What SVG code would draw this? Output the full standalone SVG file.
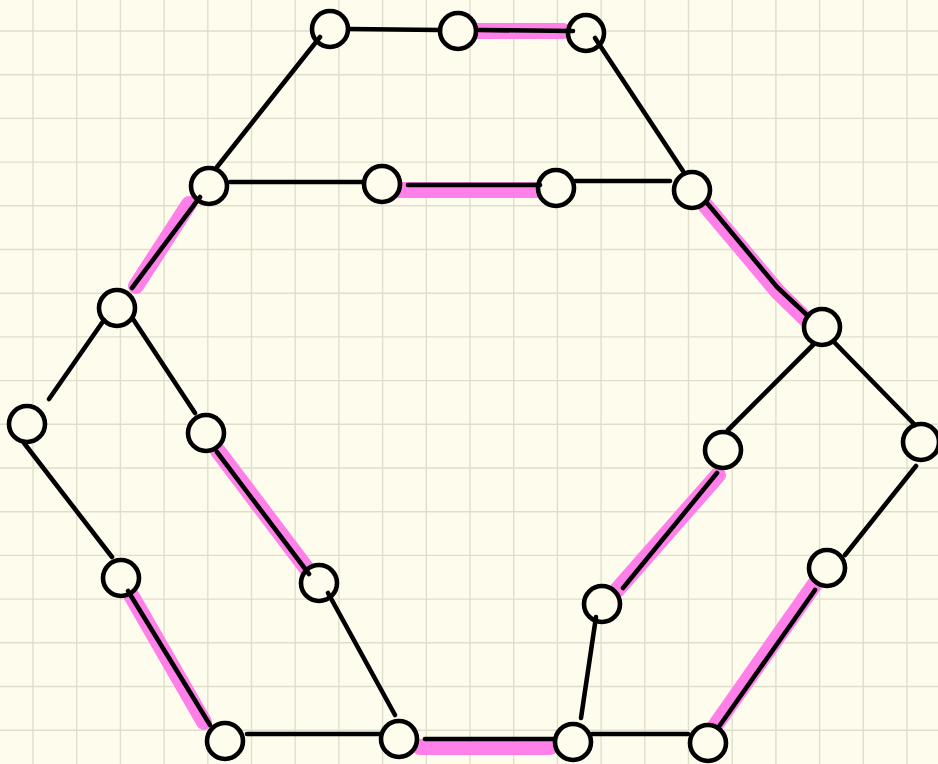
<svg xmlns="http://www.w3.org/2000/svg" width="938" height="764" viewBox="0 0 938 764">
<defs>
<style>
.bg{fill:#fefcec}
.grid{stroke:#6b6450;stroke-opacity:0.2;stroke-width:1.4;fill:none}
.hl{stroke:#ff80e8;stroke-width:16;stroke-linecap:round;fill:none}
.e{stroke:#000;stroke-width:4.6;stroke-linecap:round;stroke-linejoin:round;fill:none}
.n{fill:#fefcec;stroke:#000;stroke-width:4.6}
</style>
</defs>
<rect class="bg" x="0" y="0" width="938" height="764"/>
<path class="grid" d="M33 0V764M76.7 0V764M120.4 0V764M164.1 0V764M207.8 0V764M251.5 0V764M295.2 0V764M338.9 0V764M382.6 0V764M426.3 0V764M470 0V764M513.7 0V764M557.4 0V764M601.1 0V764M644.8 0V764M688.5 0V764M732.2 0V764M775.9 0V764M819.6 0V764M863.3 0V764M907 0V764M0 31H938M0 74.7H938M0 118.4H938M0 162.1H938M0 205.8H938M0 249.5H938M0 293.2H938M0 336.9H938M0 380.6H938M0 424.3H938M0 468H938M0 511.7H938M0 555.4H938M0 599.1H938M0 642.8H938M0 686.5H938M0 730.2H938"/>
<g id="highlights">
<path class="hl" d="M475 31H563"/>
<path class="hl" d="M398 190H540"/>
<path class="hl" d="M189 204L136 286"/>
<path class="hl" d="M705 205L778 292L818 331"/>
<path class="hl" d="M218 451L310 573"/>
<path class="hl" d="M131 595L204 722"/>
<path class="hl" d="M420 747H550"/>
<path class="hl" d="M617 590L718 475"/>
<path class="hl" d="M715 726L817 581"/>
</g>
<g id="nodes">
<g id="n1"><circle class="n" cx="330" cy="29" r="18"/></g>
<g id="n2"><circle class="n" cx="458" cy="31" r="18"/></g>
<g id="n3"><circle class="n" cx="586" cy="33" r="18"/></g>
<g id="n4"><circle class="n" cx="209" cy="186" r="18"/></g>
<g id="n5"><circle class="n" cx="382" cy="184" r="18"/></g>
<g id="n6"><circle class="n" cx="556" cy="188" r="18"/></g>
<g id="n7"><circle class="n" cx="692" cy="190" r="18"/></g>
<g id="n8"><circle class="n" cx="117" cy="308" r="18"/></g>
<g id="n9"><circle class="n" cx="822" cy="327" r="18"/></g>
<g id="n10"><circle class="n" cx="27" cy="424" r="18"/></g>
<g id="n11"><circle class="n" cx="206" cy="433" r="18"/></g>
<g id="n12"><circle class="n" cx="921" cy="442" r="18"/></g>
<g id="n13"><circle class="n" cx="723" cy="450" r="18"/></g>
<g id="n14"><circle class="n" cx="121" cy="578" r="18"/></g>
<g id="n15"><circle class="n" cx="319" cy="583" r="18"/></g>
<g id="n16"><circle class="n" cx="827" cy="568" r="18"/></g>
<g id="n17"><circle class="n" cx="602" cy="604" r="18"/></g>
<g id="n18"><circle class="n" cx="225" cy="741" r="18"/></g>
<g id="n19"><circle class="n" cx="399" cy="739" r="18"/></g>
<g id="n20"><circle class="n" cx="573" cy="742" r="18"/></g>
<g id="n21"><circle class="n" cx="708" cy="743" r="18"/></g>
</g>
<g id="connectors">
<path class="e" d="M349 29L440 30"/>
<path class="e" d="M479 30L573 31"/>
<path class="e" d="M320 37L217 167"/>
<path class="e" d="M595 38L683 171"/>
<path class="e" d="M230 182L363 182"/>
<path class="e" d="M408 185L540 185"/>
<path class="e" d="M575 181L670 181"/>
<path class="e" d="M200 197L132 288"/>
<path class="e" d="M707 203L777 287L808 316"/>
<path class="e" d="M104 320L49 399"/>
<path class="e" d="M133 319L195 413"/>
<path class="e" d="M24 443L112 557"/>
<path class="e" d="M217 452L309 574"/>
<path class="e" d="M128 591L210 725"/>
<path class="e" d="M328 593L395 715"/>
<path class="e" d="M247 734L380 734"/>
<path class="e" d="M425 739L555 739"/>
<path class="e" d="M592 734L688 734"/>
<path class="e" d="M581 718L596 617"/>
<path class="e" d="M623 588L717 473"/>
<path class="e" d="M728 430L813 345"/>
<path class="e" d="M835 343L915 425"/>
<path class="e" d="M916 466L845 555"/>
<path class="e" d="M718 728L815 590"/>
</g>
</svg>
